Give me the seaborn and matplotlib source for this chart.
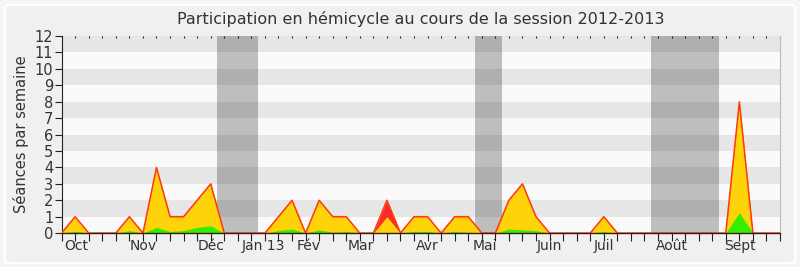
import numpy as np
import pandas as pd
import matplotlib
matplotlib.use("Agg")
import matplotlib.pyplot as plt
from matplotlib.patches import FancyBboxPatch
import seaborn as sns

# ---- data ----
weeks = list(range(54))
total = [0, 1, 0, 0, 0, 1, 0, 4, 1, 1, 2, 3, 0, 0, 0, 0, 1, 2, 0, 2,
         1, 1, 0, 0, 2, 0, 1, 1, 0, 1, 1, 0, 0, 2, 3, 1, 0, 0, 0, 0,
         1, 0, 0, 0, 0, 0, 0, 0, 0, 0, 8, 0, 0, 0]
presence = [0, 1, 0, 0, 0, 1, 0, 4, 1, 1, 2, 3, 0, 0, 0, 0, 1, 2, 0, 2,
            1, 1, 0, 0, 1, 0, 1, 1, 0, 1, 1, 0, 0, 2, 3, 1, 0, 0, 0, 0,
            1, 0, 0, 0, 0, 0, 0, 0, 0, 0, 8, 0, 0, 0]
green = [0, 0.1, 0, 0, 0, 0.15, 0, 0.35, 0.1, 0.15, 0.35, 0.45, 0, 0, 0, 0, 0.15, 0.25, 0, 0.2,
         0.05, 0.1, 0, 0, 0.05, 0, 0.1, 0.1, 0, 0.1, 0.05, 0, 0, 0.25, 0.2, 0.15, 0, 0, 0, 0,
         0.1, 0, 0, 0, 0, 0, 0, 0, 0, 0, 1.25, 0, 0, 0]
month_labels = ["Oct", "Nov", "Déc", "Jan 13", "Fév", "Mar", "Avr", "Mai", "Juin", "Juil", "Août", "Sept"]
month_pos = [1.1, 6.0, 11.0, 14.9, 18.2, 22.1, 27.0, 31.2, 36.0, 40.0, 45.0, 50.05]
vacations = [(11.5, 14.5), (30.5, 32.5), (43.5, 48.5)]

df = pd.DataFrame({"week": weeks, "total": total, "presence": presence, "green": green})

sns.set_theme(style="white")
plt.rcParams["font.family"] = ["DejaVu Sans"]

fig = plt.figure(figsize=(8, 2.67), dpi=100, facecolor="#F5F5F5")
fig.patches.append(FancyBboxPatch((0.006, 0.015), 0.988, 0.967, boxstyle="round,pad=0,rounding_size=0.008",
                                  transform=fig.transFigure, facecolor="#F0F0F0", edgecolor="#FFFFFF",
                                  linewidth=1.5, zorder=-1))
ax = fig.add_axes([0.077, 0.127, 0.898, 0.738])
ax.set_facecolor("#FAFAFA")

# stripes
for k in range(1, 12, 2):
    ax.axhspan(k, k + 1, color="#E6E6E6", lw=0, zorder=0)
for a, b in vacations:
    ax.axvspan(a, b, color="black", alpha=0.24, lw=0, zorder=1)

ax.fill_between(df["week"], 0, df["total"], color="#FF2A2A", lw=0, zorder=2)
ax.fill_between(df["week"], 0, df["presence"], color="#FFD30A", lw=0, zorder=3)
ax.fill_between(df["week"], 0, df["green"], color="#33EE00", lw=0, zorder=4)
sns.lineplot(data=df, x="week", y="total", color="#FF3A10", lw=1.1, ax=ax, zorder=5)

ax.set_xlim(0, 53)
ax.set_ylim(0, 12)
ax.set_yticks(range(13))
ax.set_yticklabels([str(i) for i in range(13)], fontsize=10.5, color="#333333")
ax.xaxis.remove_overlapping_locs = False
ax.set_xticks(weeks)
ax.set_xticklabels([""] * len(weeks))
ax.set_xticks(month_pos, minor=True)
ax.set_xticklabels(month_labels, minor=True, fontsize=10, color="#333333")
ax.tick_params(axis="x", which="major", direction="out", length=6, width=0.8, color="#222222",
               bottom=True, top=False)
ax.tick_params(axis="x", which="minor", length=0, pad=4)
ax.tick_params(axis="y", which="major", direction="out", length=5, width=0.8, color="#222222",
               left=True, pad=1)
# tiny top ticks
sec = ax.secondary_xaxis("top")
sec.set_xticks(weeks)
sec.set_xticklabels([""] * len(weeks))
sec.tick_params(direction="in", length=1.5, width=0.8, color="#222222")
sec.spines["top"].set_visible(False)

ax.set_xlabel("")
ax.set_ylabel("Séances par semaine", fontsize=10.5, color="#333333", labelpad=4)
ax.spines["top"].set_visible(False)
ax.spines["right"].set_color("#BBBBBB")
ax.spines["right"].set_linewidth(0.8)
ax.spines["left"].set_color("#222222")
ax.spines["left"].set_linewidth(0.8)
ax.spines["bottom"].set_color("#3A1A10")
ax.spines["bottom"].set_linewidth(1.0)
ax.spines["bottom"].set_zorder(6)

ax_center = 0.077 + 0.898 / 2
fig.text(ax_center, 0.93, "Participation en hémicycle au cours de la session 2012-2013",
         ha="center", va="center", fontsize=11.5, color="#333333")

fig.savefig("out.png", dpi=100, facecolor=fig.get_facecolor())
